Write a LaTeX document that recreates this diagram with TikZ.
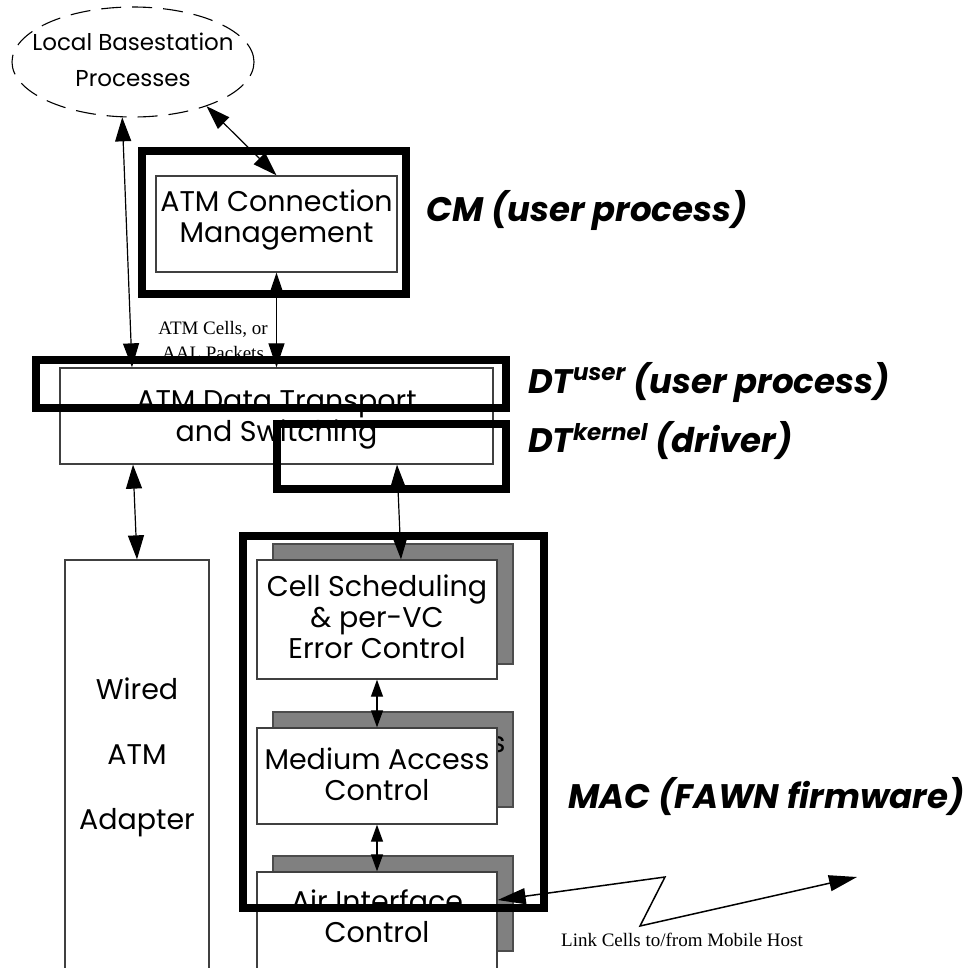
\documentclass[tikz,border=0pt]{standalone}
\usepackage{fontspec}
\newfontfamily\sansfnt{Poppins}
\newfontfamily\seriffnt{Liberation Serif}
\usetikzlibrary{arrows.meta,shapes.geometric,calc}
\begin{document}
\begin{tikzpicture}[x=1pt,y=-1pt,
  box/.style={draw=black!75, line width=1.3pt, fill=white, rectangle, inner sep=0pt, align=center, font=\sansfnt\fontsize{28.5}{31}\selectfont},
  shadowbox/.style={draw=black!70, line width=1.3pt, fill=black!50, rectangle, inner sep=0pt, align=center, font=\sansfnt\fontsize{28.5}{31}\selectfont},
  txt/.style={inner sep=0pt, align=center, font=\sansfnt\fontsize{28.5}{31}\selectfont},
  heavy/.style={draw=black, line width=8pt, rectangle, inner sep=0pt},
  tip/.tip={Triangle[length=24pt,width=16pt]},
  smalltip/.tip={Triangle[length=17pt,width=12pt]},
  bigtip/.tip={Triangle[length=28pt,width=16pt]},
  arr/.style={line width=1.2pt, tip-tip},
  sarr/.style={line width=1.2pt, smalltip-smalltip},
  lbl/.style={font=\sansfnt\bfseries\itshape\fontsize{34}{38}\selectfont, anchor=west, inner sep=0pt},
  note/.style={font=\seriffnt\fontsize{19}{25}\selectfont, align=center, inner sep=0pt}]
\useasboundingbox (0,0) rectangle (975,967);
\clip (0,0) rectangle (975,967);

% ellipse
\node[ellipse, draw, dashed, dash pattern=on 20pt off 11pt, line width=1.1pt, minimum width=242, minimum height=110, inner sep=0pt] (lbp) at (133,62) {};
\node[txt, font=\sansfnt\fontsize{23}{36}\selectfont] (lbptxt) at (133,60) {Local Basestation\\Processes};

% boxes
\node[box, minimum width=241, minimum height=96] (cm) at (276.5,224) {};
\node[txt] (cmtxt) at (276.5,220) {ATM Connection\\Management};
\node[box, minimum width=433, minimum height=96] (dt) at (276.5,416) {};
\node[txt] (dttxt) at (276.5,420) {ATM Data Transport\\and Switching};
\node[box, minimum width=144, minimum height=440] (wired) at (137,780) {};
\node[txt, font=\sansfnt\fontsize{28.5}{65}\selectfont] (wiredtxt) at (137,757) {Wired\\ATM\\Adapter};

\node[shadowbox, minimum width=240, minimum height=120] (cellsh) at (393,604) {};
\node[box, minimum width=240, minimum height=119] (cell) at (377,619.5) {};
\node[txt] (celltxt) at (377,617) {Cell Scheduling\\\& per-VC\\Error Control};
\node[shadowbox, minimum width=240, minimum height=95] (medsh) at (393,759.5) {};
\node[txt] (medshtxt) at (393,757.5) {Medium Access\\Control};
\node[box, minimum width=240, minimum height=96] (med) at (377,776) {};
\node[txt] (medtxt) at (377,774) {Medium Access\\Control};
\node[shadowbox, minimum width=240, minimum height=95] (airsh) at (393,903.5) {};
\node[box, minimum width=240, minimum height=128] (air) at (377,936) {};
\node[txt] (airtxt) at (377,916) {Air Interface\\Control};

% notes
\node[note] (cells) at (213,340) {ATM Cells, or\\AAL Packets};
\node[note] (linklbl) at (682,940) {Link Cells to/from Mobile Host};

% heavy frames
\node[heavy, minimum width=264, minimum height=143] (cmbox) at (274,222.5) {};
\node[heavy, minimum width=470, minimum height=48] (dtuser) at (271,384) {};
\node[heavy, minimum width=229, minimum height=65] (dtkernel) at (391.5,456.5) {};
\node[heavy, minimum width=301, minimum height=372] (macbox) at (393.5,722) {};

% arrows
\draw[arr] (lbp.-31) -- (cm.north);
\draw[arr] (lbp.-101) -- (dt.north -| 132,0);
\draw[arr] (cm.south) -- (cm.south |- dt.north);
\draw[arr] (dt.south -| 133,0) -- (wired.north);
\draw[arr] (dt.south -| 397,0) -- (cell.north -| 401,0);
\draw[sarr] (cell.south) -- (med.north);
\draw[sarr] (med.south) -- (air.north);

\coordinate (z1) at (665,877);
\coordinate (z2) at (640,926);
\coordinate (mob) at (857,877);
\draw[line width=1.5pt, bigtip-bigtip] (air.east |- 0,900) -- (z1) -- (z2) -- (mob);

% labels
\node[lbl] (cmlbl) at (426,210) {CM (user process)};
\node[lbl] (dtulbl) at (528,382) {DT\raisebox{0.38em}{\fontsize{23}{23}\selectfont user} (user process)};
\node[lbl] (dtklbl) at (528,441) {DT\raisebox{0.38em}{\fontsize{23}{23}\selectfont kernel} (driver)};
\node[lbl] (maclbl) at (568,797) {MAC (FAWN firmware)};
\end{tikzpicture}
\end{document}
